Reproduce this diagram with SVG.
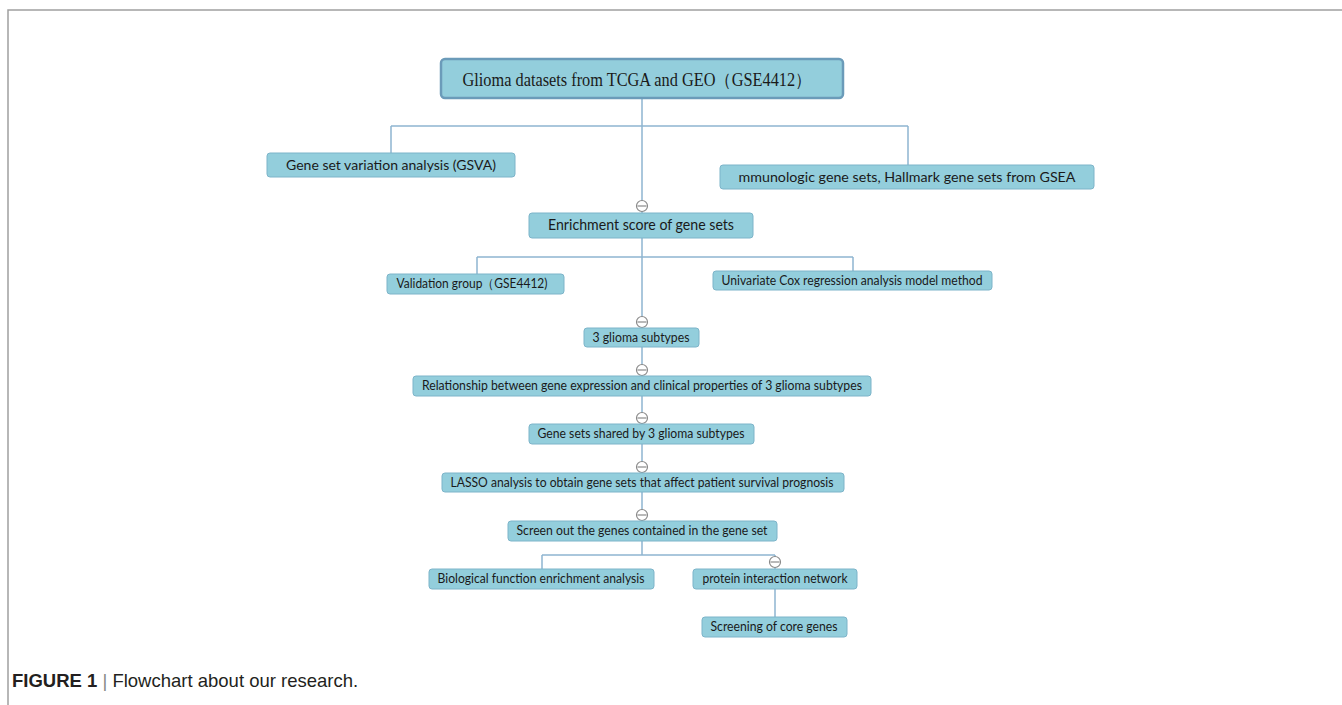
<svg xmlns="http://www.w3.org/2000/svg" width="1342" height="705" viewBox="0 0 1342 705">
<style>
.box{fill:#93cedc;stroke:#7db4c9;stroke-width:1}
.top{fill:#93cedc;stroke:#6b9bb9;stroke-width:2.5}
.t{font-family:Lato,"Open Sans",sans-serif;fill:#1a1a1a;text-anchor:middle;dominant-baseline:central}
.ts{font-family:"Liberation Serif","Times New Roman",serif;fill:#1a1a1a;text-anchor:middle;dominant-baseline:central}
.c{stroke:#8fb5d1;stroke-width:1.5;fill:none}
.k circle{fill:#fff;stroke:#8a8a8a;stroke-width:1.2}
.k line{stroke:#8a8a8a;stroke-width:1.2}
.frame{stroke:#a0a0a0;stroke-width:1.5;fill:none}
</style>
<rect width="1342" height="705" fill="#fff"/>
<path class="frame" d="M8,705 V10 H1342"/>
<g id="connectors">
<path class="c" d="M642,99 V213 M391,126 H908 M391,126 V153 M908,126 V165"/>
<path class="c" d="M642,238 V328 M477,257 H853 M477,257 V274 M853,257 V271"/>
<path class="c" d="M642,347 V376 M642,396 V424 M642,444 V473 M642,492 V521"/>
<path class="c" d="M642,541 V555 M542,555 H775 M542,555 V569 M775,555 V569 M775,589 V617"/>
</g>
<g id="toggles" class="k">
<circle cx="642" cy="206" r="5.5"/><line x1="637.5" y1="206" x2="646.5" y2="206"/>
<circle cx="642" cy="322" r="5.5"/><line x1="637.5" y1="322" x2="646.5" y2="322"/>
<circle cx="642" cy="370" r="5.5"/><line x1="637.5" y1="370" x2="646.5" y2="370"/>
<circle cx="642" cy="418" r="5.5"/><line x1="637.5" y1="418" x2="646.5" y2="418"/>
<circle cx="642" cy="467" r="5.5"/><line x1="637.5" y1="467" x2="646.5" y2="467"/>
<circle cx="642" cy="515" r="5.5"/><line x1="637.5" y1="515" x2="646.5" y2="515"/>
<circle cx="775" cy="562" r="5.5"/><line x1="770.5" y1="562" x2="779.5" y2="562"/>
</g>
<g id="n-root"><rect class="top" x="441" y="59" width="402" height="39" rx="4"/><text class="ts" x="637" y="80" font-size="18" textLength="349" lengthAdjust="spacingAndGlyphs">Glioma datasets from TCGA and GEO（GSE4412）</text></g>
<g id="n-gsva"><rect class="box" x="267" y="153" width="248" height="24" rx="3"/><text class="t" x="391" y="164" font-size="14" textLength="210" lengthAdjust="spacingAndGlyphs">Gene set variation analysis (GSVA)</text></g>
<g id="n-gsea"><rect class="box" x="720" y="165" width="374" height="24" rx="3"/><text class="t" x="907" y="176" font-size="14" textLength="337" lengthAdjust="spacingAndGlyphs">mmunologic gene sets, Hallmark gene sets from GSEA</text></g>
<g id="n-enrich"><rect class="box" x="529" y="213" width="224" height="25" rx="3"/><text class="t" x="641" y="224" font-size="15" textLength="186" lengthAdjust="spacingAndGlyphs">Enrichment score of gene sets</text></g>
<g id="n-valid"><rect class="box" x="387" y="274" width="177" height="20" rx="3"/><text class="t" x="472" y="283" font-size="13" textLength="151" lengthAdjust="spacingAndGlyphs">Validation group（GSE4412)</text></g>
<g id="n-cox"><rect class="box" x="713" y="271" width="279" height="19" rx="3"/><text class="t" x="852" y="280" font-size="13" textLength="261" lengthAdjust="spacingAndGlyphs">Univariate Cox regression analysis model method</text></g>
<g id="n-sub"><rect class="box" x="584" y="328" width="115" height="19" rx="3"/><text class="t" x="641" y="337" font-size="13" textLength="97" lengthAdjust="spacingAndGlyphs">3 glioma subtypes</text></g>
<g id="n-rel"><rect class="box" x="413" y="376" width="458" height="20" rx="3"/><text class="t" x="642" y="385" font-size="13" textLength="440" lengthAdjust="spacingAndGlyphs">Relationship between gene expression and clinical properties of 3 glioma subtypes</text></g>
<g id="n-shared"><rect class="box" x="529" y="424" width="225" height="20" rx="3"/><text class="t" x="641" y="433" font-size="13" textLength="207" lengthAdjust="spacingAndGlyphs">Gene sets shared by 3 glioma subtypes</text></g>
<g id="n-lasso"><rect class="box" x="442" y="473" width="402" height="19" rx="3"/><text class="t" x="642" y="482" font-size="13" textLength="383" lengthAdjust="spacingAndGlyphs">LASSO analysis to obtain gene sets that affect patient survival prognosis</text></g>
<g id="n-screen"><rect class="box" x="508" y="521" width="269" height="20" rx="3"/><text class="t" x="642" y="530" font-size="13" textLength="251" lengthAdjust="spacingAndGlyphs">Screen out the genes contained in the gene set</text></g>
<g id="n-bio"><rect class="box" x="429" y="569" width="225" height="20" rx="3"/><text class="t" x="541" y="578" font-size="13" textLength="207" lengthAdjust="spacingAndGlyphs">Biological function enrichment analysis</text></g>
<g id="n-ppi"><rect class="box" x="693" y="569" width="164" height="20" rx="3"/><text class="t" x="775" y="578" font-size="13" textLength="145" lengthAdjust="spacingAndGlyphs">protein interaction network</text></g>
<g id="n-core"><rect class="box" x="702" y="617" width="145" height="20" rx="3"/><text class="t" x="774" y="626" font-size="13" textLength="127" lengthAdjust="spacingAndGlyphs">Screening of core genes</text></g>
<g id="caption"><text x="12" y="687" font-family="'Liberation Sans',Arial,sans-serif" font-size="18.5" fill="#231f20"><tspan font-weight="bold">FIGURE 1</tspan><tspan fill="#888"> | </tspan>Flowchart about our research.</text></g>
</svg>
